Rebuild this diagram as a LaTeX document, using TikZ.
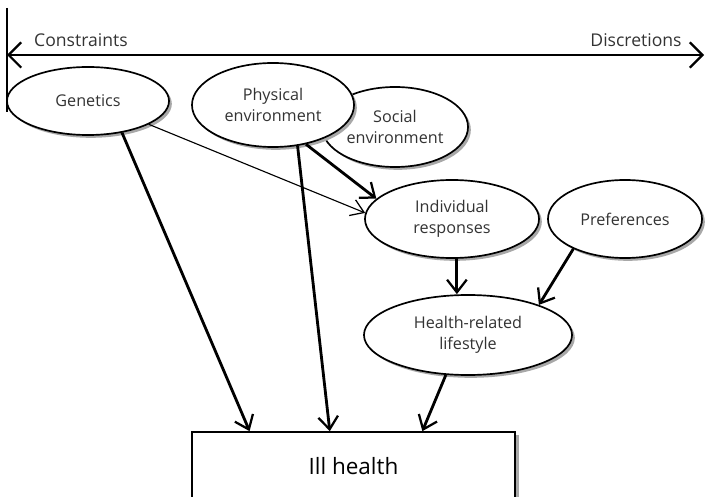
\documentclass[tikz,border=0pt]{standalone}
\usepackage{fontspec}
\setmainfont{Open Sans}
\usetikzlibrary{positioning, shapes.geometric, shadows, calc, arrows.meta}
\definecolor{hlText}{HTML}{333333}
\definecolor{hlShadow}{HTML}{A8A8A8}

\begin{document}
\begin{tikzpicture}[
  x=0.025cm, y=-0.025cm,
  ell/.style={draw, ellipse, line width=1.2pt, fill=white, inner sep=0pt, text=hlText,
    font=\fontsize{11.5}{15}\selectfont, align=center,
    drop shadow={shadow xshift=2pt, shadow yshift=-2pt, fill=hlShadow, opacity=1}},
  arr/.style={-{Straight Barb[length=9pt, width=14pt, line width=1.6pt]}, line width=2pt},
  thinarr/.style={-{Straight Barb[length=9pt, width=12pt, line width=0.9pt]}, line width=0.8pt},
  lab/.style={font=\fontsize{12.5}{14}\selectfont, text=hlText}
]
\clip (0,0) rectangle (707,497);

% scale from constraints to discretions
\coordinate (lft) at (7,55);
\coordinate (rgt) at (704,55);
\draw[line width=2pt] (7,8) -- (7,112);
\draw[{Straight Barb[length=9pt, width=18pt, line width=1.6pt]}-{Straight Barb[length=9pt, width=18pt, line width=1.6pt]}, line width=2pt] (lft) -- (rgt);
\node[lab] (con) at (81,40) {Constraints};
\node[lab] (dis) at (636,40) {Discretions};

\node[ell, minimum width=4.05cm, minimum height=1.70cm] (gen) at (88,101) {Genetics};
\node[ell, minimum width=3.65cm, minimum height=2.0cm] (soc) at (395,127) {Social\\environment};
\node[ell, minimum width=4.05cm, minimum height=2.10cm] (phy) at (273,105) {Physical\\environment};
\node[ell, minimum width=4.35cm, minimum height=1.95cm] (ind) at (452,219) {Individual\\responses};
\node[ell, minimum width=3.85cm, minimum height=1.95cm] (pre) at (625,219) {Preferences};
\node[ell, minimum width=5.2cm, minimum height=2.0cm] (hrl) at (468,335) {Health-related\\lifestyle};
\node[draw, line width=1.2pt, fill=white, minimum width=8.075cm, minimum height=1.7cm,
  font=\fontsize{16}{18}\selectfont, text=black,
  drop shadow={shadow xshift=2.5pt, shadow yshift=-2pt, fill=hlShadow, opacity=1}] (ill) at (353.5,466) {Ill health};

\draw[thinarr] (gen.-21) -- (ind.176);
\draw[arr] (phy.-50) -- (ind.165);
\draw[arr] (gen.-43) -- ($(ill.north west)!0.18!(ill.north east)$);
\draw[arr] (phy.-59) -- ($(ill.north west)!0.427!(ill.north east)$);
\draw[arr] (ind.-83) -- (ind.-83 |- hrl.north);
\draw[arr] (pre.210) -- (hrl.23);
\draw[arr] (hrl.-119) -- ($(ill.north west)!0.712!(ill.north east)$);
\end{tikzpicture}
\end{document}
